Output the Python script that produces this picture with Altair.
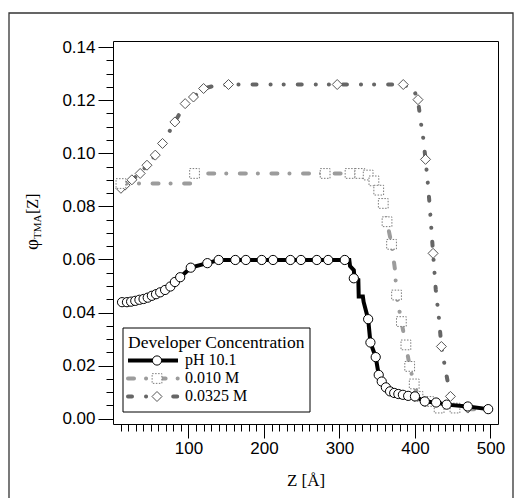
import altair as alt
import pandas as pd

SERIES = ["pH 10.1", "0.010 M", "0.0325 M"]
LEGEND_TITLE = "Developer Concentration"
X_TITLE = "Z [Å]"
Y_TITLE_PARTS = ["φ", "TMA", "[Z]"]

X_MAJOR = [100, 200, 300, 400, 500]
X_MINOR = [10, 20, 30, 40, 50, 60, 70, 80, 90, 110, 120, 130, 140, 150, 160, 170, 180, 190,
           210, 220, 230, 240, 250, 260, 270, 280, 290, 310, 320, 330, 340, 350, 360, 370, 380, 390,
           410, 420, 430, 440, 450, 460, 470, 480, 490]
Y_MAJOR = [0.00, 0.02, 0.04, 0.06, 0.08, 0.10, 0.12, 0.14]
Y_MINOR = [0.005, 0.01, 0.015, 0.025, 0.03, 0.035, 0.045, 0.05, 0.055, 0.065, 0.07, 0.075,
           0.085, 0.09, 0.095, 0.105, 0.11, 0.115, 0.125, 0.13, 0.135]

# pH 10.1 (markers)
ph_z = [12, 18.5, 24, 29.5, 35, 40.5, 46, 51.5, 57, 62.5, 69, 76, 82, 89, 103, 125, 140,
        162, 176, 197, 212, 235, 249, 270, 285, 307, 319, 338, 341, 348, 352,
        356, 361.5, 367, 372.5, 378, 384, 391, 400, 413, 428, 442, 470, 497]
ph_phi = [0.0439, 0.0439, 0.0441, 0.0444, 0.0448, 0.0451, 0.0456, 0.0463, 0.0469, 0.0476,
          0.0485, 0.0498, 0.0515, 0.0533, 0.0569, 0.0586, 0.0598,
          0.0598, 0.0598, 0.0598, 0.0598, 0.0598, 0.0598, 0.0598, 0.0598, 0.0598,
          0.0529, 0.0375, 0.0287, 0.0232, 0.0165,
          0.0140, 0.0118, 0.0103, 0.0097, 0.0093, 0.0090, 0.0086, 0.0084,
          0.0065, 0.0061, 0.0053, 0.0046, 0.0036]
# pH 10.1 (line, includes stair steps)
ph_line_z = [12, 35, 57, 76, 89, 103, 125, 140, 307, 313, 314, 319, 320, 325, 325.5, 331, 332,
             338, 341, 348, 352, 356, 361.5, 367, 372.5, 378, 384, 391, 400, 413, 428, 442, 470, 497]
ph_line_phi = [0.0439, 0.0448, 0.0469, 0.0498, 0.0533, 0.0569, 0.0586, 0.0598, 0.0598, 0.0598,
               0.0575, 0.0560, 0.0529, 0.0523, 0.0460, 0.0460, 0.0440,
               0.0375, 0.0287, 0.0232, 0.0165, 0.0140, 0.0118, 0.0103, 0.0097, 0.0093, 0.0090,
               0.0086, 0.0084, 0.0065, 0.0061, 0.0053, 0.0046, 0.0036]

# 0.010 M
m010_z = [10.5, 104, 108, 281, 314, 327, 338, 345.6, 352, 358, 363, 369, 373.5, 375.6, 382,
          388, 393, 399, 404, 418, 432, 453, 475, 497]
m010_phi = [0.0886, 0.0886, 0.0924, 0.0924, 0.0924, 0.0924, 0.0918, 0.0896, 0.0861, 0.0811,
            0.0742, 0.0657, 0.0563, 0.0466, 0.0366, 0.0278, 0.0197, 0.0131, 0.0084, 0.0065,
            0.0040, 0.0040, 0.0036, 0.0034]
m010_marked = [10.5, 108, 281, 314, 327, 338, 345.6, 352, 358, 363, 369, 375.6, 382,
               388, 393, 399, 404, 418, 432, 453]

# 0.0325 M
m0325_z = [10.5, 16, 25, 36, 45, 56, 65.6, 82, 95.6, 106.6, 120, 135, 153, 297, 384.5,
           397.6, 404, 407, 411, 414, 417.5, 420.6, 424, 427.6, 432, 435, 439.6, 447, 453, 470, 497]
m0325_phi = [0.0868, 0.0880, 0.0900, 0.0924, 0.0955, 0.0993, 0.1037, 0.1118, 0.1187, 0.1212,
             0.1244, 0.1255, 0.1259, 0.1259, 0.1259,
             0.1244, 0.1202, 0.1131, 0.1056, 0.0977, 0.0874, 0.0761, 0.0623, 0.0485, 0.0372,
             0.0272, 0.0197, 0.0084, 0.0053, 0.0040, 0.0035]
m0325_marked = [10.5, 16, 25, 36, 45, 56, 65.6, 82, 95.6, 106.6, 120, 153, 297, 384.5,
                404, 414, 424, 435, 447, 470]

df_ph = pd.DataFrame({"z": ph_z, "phi": ph_phi})
df_ph_line = pd.DataFrame({"z": ph_line_z, "phi": ph_line_phi})
df_010 = pd.DataFrame({"z": m010_z, "phi": m010_phi})
df_010_pts = df_010[df_010["z"].isin(m010_marked)]
df_0325 = pd.DataFrame({"z": m0325_z, "phi": m0325_phi})
df_0325_pts = df_0325[df_0325["z"].isin(m0325_marked)]
one = pd.DataFrame({"a": [0]})

W, H = 385, 383
PL, PT = 113, 41

xs = alt.Scale(domain=[0, 510], nice=False, zero=False)
ys = alt.Scale(domain=[-0.002, 0.1423], nice=False, zero=False)

SANS = "Liberation Sans"
SERIF = "Liberation Serif"

C010 = "#9c9c9c"
C0325 = "#666666"
DASH010 = [6, 12, 0.1, 13.5]
DASH0325 = [4, 14, 0.1, 13, 0.1, 14]

major_axes = alt.Chart(df_ph).mark_point(opacity=0).encode(
    x=alt.X("z:Q", scale=xs, axis=alt.Axis(
        orient="bottom", values=X_MAJOR, format="d", tickSize=14, tickColor="black",
        tickWidth=1, labelFont=SANS, labelFontSize=17, labelColor="black", labelPadding=2,
        domain=False, grid=False, title=X_TITLE, titleFont=SERIF, titleFontSize=17,
        titleFontWeight="normal", titleColor="black", titlePadding=16, labelFlush=False)),
    y=alt.Y("phi:Q", scale=ys, axis=alt.Axis(
        orient="left", values=Y_MAJOR, format=".2f", tickSize=15, tickColor="black",
        tickWidth=1, labelFont=SANS, labelFontSize=17, labelColor="black", labelPadding=3,
        domain=False, grid=False, title="", labelFlush=False)),
)
minor_axes = alt.Chart(df_ph).mark_point(opacity=0).encode(
    x=alt.X("z:Q", scale=xs, axis=alt.Axis(
        orient="bottom", values=X_MINOR, labels=False, tickSize=7, tickColor="black",
        tickWidth=1, domain=False, grid=False, title="")),
    y=alt.Y("phi:Q", scale=ys, axis=alt.Axis(
        orient="left", values=Y_MINOR, labels=False, tickSize=7, tickColor="black",
        tickWidth=1, domain=False, grid=False, title="")),
)

X = alt.X("z:Q", scale=xs, axis=None)
Y = alt.Y("phi:Q", scale=ys, axis=None)

l0325 = alt.Chart(df_0325).mark_line(color=C0325, strokeWidth=4, strokeDash=DASH0325,
                                     strokeCap="round").encode(x=X, y=Y)
p0325 = alt.Chart(df_0325_pts).mark_point(shape="diamond", filled=True, fill="white", stroke="#555555",
                                          strokeWidth=1, size=100, opacity=1).encode(x=X, y=Y)
l010 = alt.Chart(df_010).mark_line(color=C010, strokeWidth=4, strokeDash=DASH010,
                                   strokeCap="round").encode(x=X, y=Y)
p010 = alt.Chart(df_010_pts).mark_point(shape="square", filled=True, fill="white", stroke="#7a7a7a",
                                        strokeWidth=1, strokeDash=[1.5, 1.5], size=95,
                                        opacity=1).encode(x=X, y=Y)
lph = alt.Chart(df_ph_line).mark_line(color="black", strokeWidth=4).encode(x=X, y=Y)
pph = alt.Chart(df_ph).mark_point(shape="circle", filled=True, fill="white", stroke="black",
                                  strokeWidth=1, size=85, opacity=1).encode(x=X, y=Y)

frame = alt.Chart(one).mark_rect(fill="white", fillOpacity=0, stroke="#333333", strokeWidth=1.3).encode(
    x=alt.value(9 - PL), x2=alt.value(513 - PL), y=alt.value(13 - PT), y2=alt.value(520 - PT))

yt1 = alt.Chart(pd.DataFrame({"t": [Y_TITLE_PARTS[0]]})).mark_text(
    font=SERIF, fontSize=19, angle=270, align="left", baseline="alphabetic", color="black").encode(
    text="t:N", x=alt.value(38 - PL), y=alt.value(250 - PT))
yt2 = alt.Chart(pd.DataFrame({"t": [Y_TITLE_PARTS[1]]})).mark_text(
    font=SERIF, fontSize=11, angle=270, align="left", baseline="alphabetic", color="black").encode(
    text="t:N", x=alt.value(41 - PL), y=alt.value(239 - PT))
yt3 = alt.Chart(pd.DataFrame({"t": [Y_TITLE_PARTS[2]]})).mark_text(
    font=SERIF, fontSize=16, angle=270, align="left", baseline="alphabetic", color="black").encode(
    text="t:N", x=alt.value(38 - PL), y=alt.value(214 - PT))

lx0, lx1, ly0, ly1 = 123, 310, 328, 412
leg_box = alt.Chart(one).mark_rect(fill="white", stroke="black", strokeWidth=1).encode(
    x=alt.value(lx0 - PL), x2=alt.value(lx1 - PL), y=alt.value(ly0 - PT), y2=alt.value(ly1 - PT))
leg_title = alt.Chart(pd.DataFrame({"t": [LEGEND_TITLE]})).mark_text(
    font=SERIF, fontSize=17.5, align="left", baseline="alphabetic", color="black").encode(
    text="t:N", x=alt.value(128 - PL), y=alt.value(348 - PT))

row_base = [365, 383, 401]
row_sym = [360.5, 378.5, 396.5]
line_styles = [
    dict(color="black", strokeWidth=4),
    dict(color=C010, strokeWidth=4, strokeDash=DASH010, strokeCap="round"),
    dict(color=C0325, strokeWidth=4, strokeDash=DASH0325, strokeCap="round"),
]
point_styles = [
    dict(shape="circle", filled=True, fill="white", stroke="black", strokeWidth=1, size=85, opacity=1),
    dict(shape="square", filled=True, fill="white", stroke="#7a7a7a", strokeWidth=1,
         strokeDash=[1.5, 1.5], size=95, opacity=1),
    dict(shape="diamond", filled=True, fill="white", stroke="#555555", strokeWidth=1, size=100, opacity=1),
]
legend_layers = [leg_box, leg_title]
for i, name in enumerate(SERIES):
    legend_layers.append(alt.Chart(one).mark_rule(**line_styles[i]).encode(
        x=alt.value(128 - PL), x2=alt.value(178 - PL), y=alt.value(row_sym[i] - PT)))
    legend_layers.append(alt.Chart(one).mark_point(**point_styles[i]).encode(
        x=alt.value(157 - PL), y=alt.value(row_sym[i] - PT)))
    legend_layers.append(alt.Chart(pd.DataFrame({"t": [name]})).mark_text(
        font=SERIF, fontSize=16, align="left", baseline="alphabetic", color="black").encode(
        text="t:N", x=alt.value(185 - PL), y=alt.value(row_base[i] - PT)))

chart = alt.layer(
    frame, major_axes, minor_axes, l0325, p0325, l010, p010, lph, pph,
    yt1, yt2, yt3, *legend_layers
).resolve_axis(x="independent", y="independent").properties(
    width=W, height=H,
    padding={"left": PL, "top": PT, "right": 515 - PL - W, "bottom": 498 - PT - H},
    autosize=alt.AutoSizeParams(type="none"),
    background="white",
).configure_view(stroke="black", strokeWidth=1)

chart.save("out.html", embed_options={"renderer": "svg", "actions": False})
